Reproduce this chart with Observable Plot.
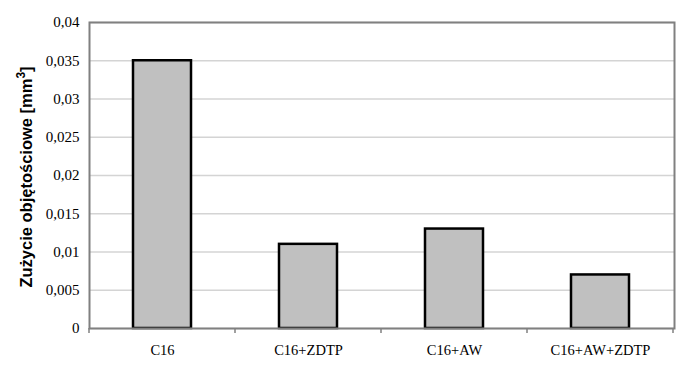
<!DOCTYPE html>
<html>
<head>
<meta charset="utf-8">
<script src="https://cdn.jsdelivr.net/npm/d3@7"></script>
<script src="https://cdn.jsdelivr.net/npm/@observablehq/plot@0.6"></script>
<style>
  html, body { margin: 0; padding: 0; background: white; }
</style>
</head>
<body>
<div id="chart"></div>
<script>
const categories = ["C16", "C16+ZDTP", "C16+AW", "C16+AW+ZDTP"];
const values = [0.035, 0.011, 0.013, 0.007];
const yTicks = [0, 0.005, 0.01, 0.015, 0.02, 0.025, 0.03, 0.035, 0.04];
const yLabelMain = "Zużycie objętościowe [mm";
const yLabelSup = "3";
const yLabelEnd = "]";

const data = categories.map((c, i) => ({cat: c, val: values[i]}));
const fmt = d => String(d).replace(".", ",");
const serif = "'Liberation Serif', 'Times New Roman', serif";

const W = 686, H = 375, ML = 89, MR = 12, MT = 22, MB = 47;

const chart = Plot.plot({
  width: W,
  height: H,
  marginLeft: ML,
  marginRight: MR,
  marginTop: MT,
  marginBottom: MB,
  style: {fontSize: "15px", fontFamily: serif, background: "white", color: "black"},
  x: {domain: categories, paddingInner: 0.6, paddingOuter: 0.3, label: null, axis: null},
  y: {domain: [0, 0.04], label: null, axis: null},
  marks: [
    Plot.gridY(yTicks, {stroke: "#d4d4d4", strokeOpacity: 1, strokeWidth: 1.5}),
    Plot.barY(data, {x: "cat", y: "val", fill: "#c0c0c0", stroke: "black", strokeWidth: 2.5}),
    Plot.frame({stroke: "#808080", strokeWidth: 2}),
    Plot.axisY(yTicks, {tickSize: 0, tickPadding: 10, tickFormat: fmt, label: null, fontSize: 15, fontFamily: serif}),
    Plot.axisX({tickSize: 0, tickPadding: 16, label: null, fontSize: 14.5, fontFamily: serif})
  ]
});
document.getElementById("chart").appendChild(chart);

// boundary ticks between categories, from the band scale
const xs = chart.scale("x");
const svg = d3.select(chart);
const bw = xs.bandwidth, step = xs.step;
const half = (step - bw) / 2;
const xpos = categories.map(c => xs.apply(c));
const bounds = [xpos[0] - half, ...xpos.map(p => p + bw + half)];
const yb = H - MB;
const g = svg.append("g");
for (const b of bounds) {
  g.append("line").attr("x1", b).attr("x2", b).attr("y1", yb).attr("y2", yb + 5)
    .attr("stroke", "#808080").attr("stroke-width", 1.5);
}
// rotated y label
const lab = svg.append("text")
  .attr("transform", `translate(${ML - 57},${MT + (H - MT - MB) / 2 + 2}) rotate(-90)`)
  .attr("text-anchor", "middle")
  .attr("font-family", "'Liberation Sans', Arial, sans-serif")
  .attr("font-weight", "bold")
  .attr("font-size", 16.5)
  .attr("fill", "black");
lab.append("tspan").text(yLabelMain);
lab.append("tspan").attr("dy", -7).attr("font-size", 12).text(yLabelSup);
lab.append("tspan").attr("dy", 7).text(yLabelEnd);
</script>
</body>
</html>
